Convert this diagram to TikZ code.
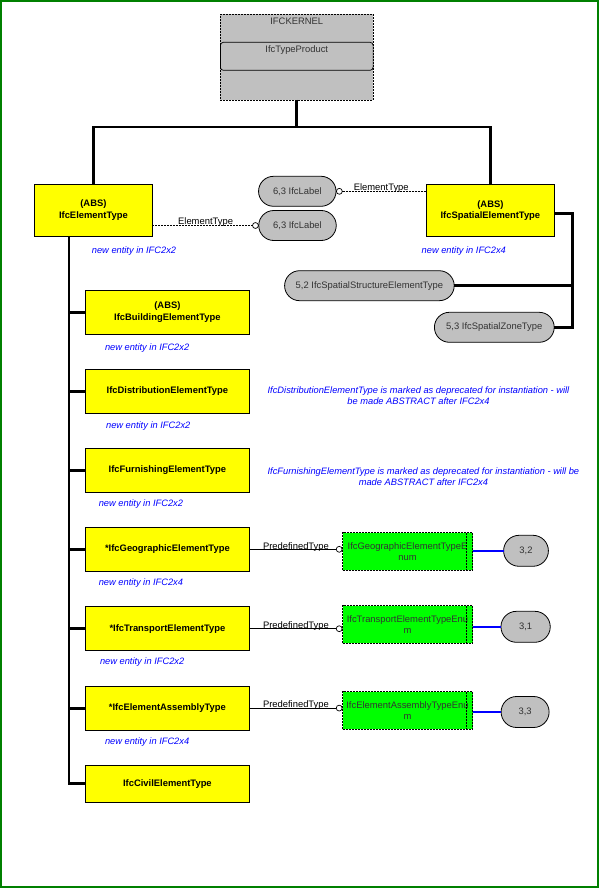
\documentclass[tikz,border=0pt]{standalone}
\usepackage{fontspec}
\setmainfont{Liberation Sans}
\usepackage{xcolor}
\usetikzlibrary{shapes.misc,arrows.meta,positioning}
\definecolor{ifcyellow}{HTML}{FFFF00}
\definecolor{ifcgreen}{HTML}{00FF00}
\definecolor{ifcgray}{HTML}{C0C0C0}
\definecolor{framegreen}{HTML}{008000}
\definecolor{noteblue}{HTML}{0000FF}
\begin{document}
\begin{tikzpicture}[x=1pt,y=-1pt,every node/.style={outer sep=0pt,inner sep=0pt,
font=\fontsize{9.4}{10.7}\selectfont}]
\tikzstyle{entity}=[draw,line width=0.8pt,fill=ifcyellow,minimum width=164pt,
minimum height=44pt,align=center,font=\fontsize{9.4}{11.7}\selectfont\bfseries]
\tikzstyle{typepill}=[draw,line width=0.8pt,fill=ifcgray,rounded rectangle,
minimum height=30pt,text=black!80]
\tikzstyle{enumbox}=[draw,line width=0.7pt,dash pattern=on 2pt off 1pt,
fill=ifcgreen,minimum width=130pt,minimum height=37.6pt,align=center,
text=black!80]
\tikzstyle{note}=[text=noteblue,align=center,
font=\fontsize{9.3}{10.7}\selectfont\itshape]
\tikzstyle{tree}=[line width=2.8pt]
\tikzstyle{attr}=[line width=0.7pt,dash pattern=on 2pt off 1pt,
-{Circle[open,length=6.6pt,line width=0.7pt]}]
\tikzstyle{predef}=[line width=0.7pt,-{Circle[open,length=6.6pt,line width=0.7pt]}]
\tikzstyle{enumlink}=[noteblue,line width=1.8pt]
\useasboundingbox (0,0) rectangle (600,888);
\draw [framegreen,line width=1.8pt] (1.2,1.2) rectangle (598.3,886.6);
%
\node (kernel) [draw,line width=0.7pt,dash pattern=on 2pt off 1pt,fill=ifcgray,
minimum width=152.7pt,minimum height=85.7pt] at (296.75,57.15) {};
\node (kerneltitle) at (kernel.north) [anchor=north,yshift=-3.2pt,text=black!80]
{IFCKERNEL};
\node (typeprod) [draw,line width=0.7pt,rounded corners=3pt,minimum width=152.7pt,
minimum height=28pt] at (296.75,56.3) {};
\node (typeprodtitle) at (typeprod.north) [anchor=north,yshift=-3.4pt,
text=black!80] {IfcTypeProduct};
%
\node (et) [entity,minimum width=118pt,minimum height=52pt] at (93.4,210.3)
{(ABS)\\IfcElementType};
\node (set) [entity,minimum width=128pt,minimum height=52.5pt] at (490.4,210.5)
{(ABS)\\IfcSpatialElementType};
\node (lblA) [typepill,minimum width=77.5pt] at (297.3,191.3) {6,3 IfcLabel};
\node (lblB) [typepill,minimum width=77.5pt] at (297.5,225.5) {6,3 IfcLabel};
\node (ssp) [typepill,minimum width=169.6pt] at (369.4,285.7)
{5,2 IfcSpatialStructureElementType};
\node (szt) [typepill,minimum width=119.8pt] at (494.3,327.3)
{5,3 IfcSpatialZoneType};
\node (etnote) at (et.south) [note,xshift=40.6pt,yshift=-14.4pt]
{new entity in IFC2x2};
\node (setnote) at (set.south) [note,xshift=-26.6pt,yshift=-14pt]
{new entity in IFC2x4};
%
\node (bet) [entity] at (167.4,312.3) {(ABS)\\IfcBuildingElementType};
\node (det) at (bet.south) [entity,anchor=north,yshift=-35pt]
{IfcDistributionElementType};
\node (fet) at (det.south) [entity,anchor=north,yshift=-35pt]
{IfcFurnishingElementType};
\node (get) at (fet.south) [entity,anchor=north,yshift=-35pt]
{*IfcGeographicElementType};
\node (tet) at (get.south) [entity,anchor=north,yshift=-35.4pt]
{*IfcTransportElementType};
\node (aet) at (tet.south) [entity,anchor=north,yshift=-35.4pt]
{*IfcElementAssemblyType};
\node (cet) at (aet.south) [entity,anchor=north,yshift=-35pt,minimum height=37pt]
{IfcCivilElementType};
%
\node (betnote) at (bet.south west) [note,anchor=west,xshift=19.6pt,yshift=-13.7pt]
{new entity in IFC2x2};
\node (detnote) at (det.south west) [note,anchor=west,xshift=20.7pt,yshift=-12.4pt]
{new entity in IFC2x2};
\node (fetnote) at (fet.south west) [note,anchor=west,xshift=13.4pt,yshift=-11.4pt]
{new entity in IFC2x2};
\node (getnote) at (get.south west) [note,anchor=west,xshift=13.4pt,yshift=-11.4pt]
{new entity in IFC2x4};
\node (tetnote) at (tet.south west) [note,anchor=west,xshift=14.6pt,yshift=-11.4pt]
{new entity in IFC2x2};
\node (aetnote) at (aet.south west) [note,anchor=west,xshift=19.6pt,yshift=-12.4pt]
{new entity in IFC2x4};
\node (detdepr) [note] at (418.5,396)
{IfcDistributionElementType is marked as deprecated for instantiation - will\\
be made ABSTRACT after IFC2x4};
\node (fetdepr) [note] at (423.4,476.9)
{IfcFurnishingElementType is marked as deprecated for instantiation - will be\\
made ABSTRACT after IFC2x4};
%
\node (genum) [enumbox] at (407.5,551.5) {IfcGeographicElementTypeE\\num};
\node (tenum) [enumbox] at (407.5,624.3) {IfcTransportElementTypeEnu\\m};
\node (aenum) [enumbox] at (407.5,710.5) {IfcElementAssemblyTypeEnu\\m};
\draw [line width=0.7pt,dash pattern=on 2pt off 1pt]
([xshift=-5.7pt]genum.north east) -- ([xshift=-5.7pt]genum.south east)
([xshift=-5.7pt]tenum.north east) -- ([xshift=-5.7pt]tenum.south east)
([xshift=-5.7pt]aenum.north east) -- ([xshift=-5.7pt]aenum.south east);
\node (p32) [typepill,minimum width=44.8pt,minimum height=31pt] at (526,550.8) {3,2};
\node (p31) [typepill,minimum width=49.3pt,minimum height=31pt] at (525.6,626.8) {3,1};
\node (p33) [typepill,minimum width=48pt,minimum height=31pt] at (525.1,712) {3,3};
%
\draw [tree] (kernel.south) -- ++(0,27) coordinate (hub);
\draw [tree] (et.north) |- (hub) -| (set.north);
\draw [tree] ([xshift=-24.5pt]et.south) |- (cet.west);
\draw [tree] (bet.west) -- ++(-16.4,0) (det.west) -- ++(-16.4,0)
(fet.west) -- ++(-16.4,0) (get.west) -- ++(-16.4,0)
(tet.west) -- ++(-16.4,0) (aet.west) -- ++(-16.4,0);
\draw [tree] ([yshift=-2.8pt]set.east) -- ++(18.1,0) coordinate (sbr) |- (szt.east);
\draw [tree] (ssp.east) -- (ssp.east -| sbr);
%
\draw [attr] (et.east |- lblB) -- node[yshift=3pt]{ElementType} (lblB.west);
\draw [attr] (lblA -| set.west) -- node[yshift=3pt]{ElementType} (lblA.east);
\draw [predef] (get.east) -- node[yshift=2.6pt]{PredefinedType} (get.east -| genum.west);
\draw [predef] (tet.east) -- node[yshift=2.6pt]{PredefinedType} (tet.east -| tenum.west);
\draw [predef] (aet.east) -- node[yshift=2.6pt]{PredefinedType} (aet.east -| aenum.west);
\draw [enumlink] (genum.east |- p32) -- (p32.west);
\draw [enumlink] (tenum.east |- p31) -- (p31.west);
\draw [enumlink] (aenum.east |- p33) -- (p33.west);
\end{tikzpicture}
\end{document}
